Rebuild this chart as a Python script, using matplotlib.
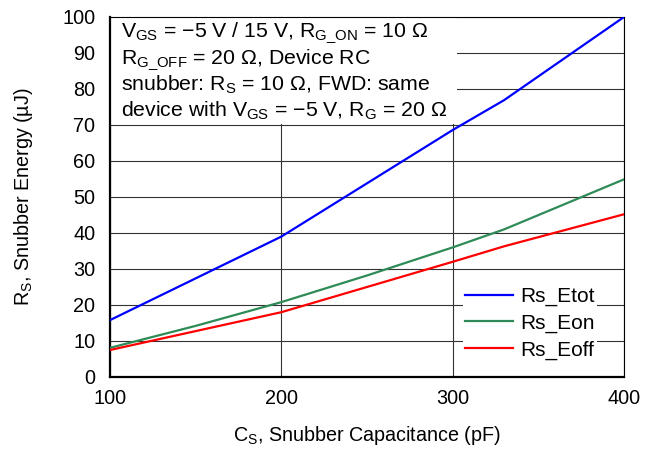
import matplotlib
matplotlib.use("Agg")
import matplotlib.pyplot as plt
from matplotlib.patches import Rectangle

# Data
cap_etot = [100, 200, 300, 330, 400]
etot = [15.8, 39.0, 68.6, 76.9, 100.0]
cap_eon = [100, 150, 200, 250, 300, 330, 400]
eon = [8.1, 14.2, 20.8, 28.2, 36.0, 41.0, 54.9]
cap_eoff = [100, 200, 300, 330, 400]
eoff = [7.5, 18.0, 32.0, 36.3, 45.2]
series_names = ["Rs_Etot", "Rs_Eon", "Rs_Eoff"]
x_ticks = [100, 200, 300, 400]
y_ticks = list(range(0, 101, 10))

plt.rcParams['font.family'] = ['Liberation Sans', 'DejaVu Sans']
plt.rcParams['mathtext.fontset'] = 'custom'
plt.rcParams['mathtext.rm'] = 'Liberation Sans'
plt.rcParams['mathtext.it'] = 'Liberation Sans'
plt.rcParams['mathtext.bf'] = 'Liberation Sans'

fig = plt.figure(figsize=(6.52, 4.49), dpi=100)
ax = fig.add_axes([110/652, 1 - 377/449, 514/652, 360/449])

ax.plot(cap_etot, etot, color='#0000ff', lw=1.6, label=series_names[0], zorder=3)
ax.plot(cap_eon, eon, color='#2e8b57', lw=1.6, label=series_names[1], zorder=3)
ax.plot(cap_eoff, eoff, color='#ff0000', lw=1.6, label=series_names[2], zorder=3)

ax.set_xlim(100, 400)
ax.set_ylim(0, 100)
ax.set_xticks(x_ticks)
ax.set_yticks(y_ticks)
ax.tick_params(length=0, labelsize=14.3)
ax.tick_params(axis='y', pad=10.5)
ax.tick_params(axis='x', pad=9)
ax.set_axisbelow(True)
ax.grid(True, color='#333333', lw=0.8)

for s in ['left', 'bottom']:
    ax.spines[s].set_linewidth(1.6)
for s in ['top', 'right']:
    ax.spines[s].set_linewidth(0.8)

ax.set_xlabel("C$_\\mathrm{S}$, Snubber Capacitance (pF)", fontsize=14.2, labelpad=11.5)
ax.set_ylabel("R$_\\mathrm{S}$, Snubber Energy (µJ)", fontsize=14.2, labelpad=20)

# White annotation box
ax.add_patch(Rectangle((0, 0.703), 0.675, 0.297, transform=ax.transAxes,
                       facecolor='white', edgecolor='none', zorder=1))
lines = [
    "V$_\\mathrm{GS}$ = \u22125 V / 15 V, R$_\\mathrm{G\\_ON}$ = 10 \u03a9",
    "R$_\\mathrm{G\\_OFF}$ = 20 \u03a9, Device RC",
    "snubber: R$_\\mathrm{S}$ = 10 \u03a9, FWD: same",
    "device with V$_\\mathrm{GS}$ = \u22125 V, R$_\\mathrm{G}$ = 20 \u03a9",
]
ys = [0.944, 0.870, 0.796, 0.722]
for t, y in zip(lines, ys):
    ax.text(0.021, y, t, transform=ax.transAxes, fontsize=15.3,
            va='baseline', ha='left', zorder=2)

leg = ax.legend(loc='upper left', bbox_to_anchor=(0.687, 0.256), fontsize=15,
                frameon=True, fancybox=False, framealpha=1, facecolor='white',
                edgecolor='none', borderpad=0.1, handlelength=2.3,
                handletextpad=0.35, labelspacing=0.36, borderaxespad=0)
leg.set_zorder(2)

fig.savefig("out.png", dpi=100)
